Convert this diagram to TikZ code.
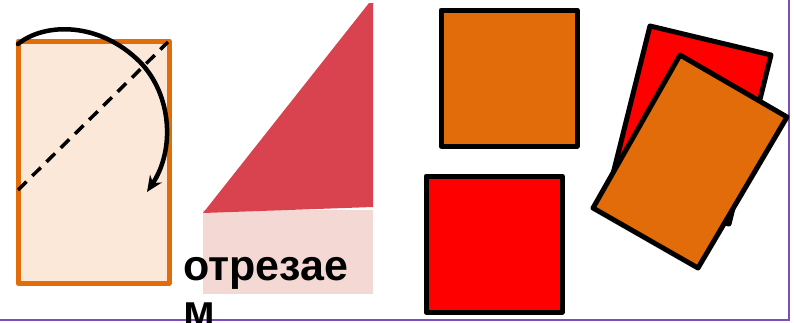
\documentclass[tikz,border=0pt]{standalone}
\usepackage{fontspec}
\setmainfont{Liberation Sans}
\usetikzlibrary{arrows.meta}
\definecolor{orng}{HTML}{E36C0A}
\definecolor{peach}{HTML}{FBE8D9}
\definecolor{tri}{HTML}{D9434F}
\definecolor{pinkbg}{HTML}{F3D8D4}
\definecolor{purp}{HTML}{7E4FB8}
\definecolor{pure}{HTML}{FF0000}
\tikzset{
  card/.style={draw=black, line width=5pt, line join=round},
  lbl/.style={font=\bfseries\fontsize{43}{46}\selectfont, inner sep=0pt, anchor=base west},
}
\begin{document}
\begin{tikzpicture}[x=1pt,y=-1pt]
\useasboundingbox (0,0) rectangle (794,322);
% frame
\draw[purp, line width=2pt] (0,320) -- (789,320) -- (789,0);
% left sheet
\draw[draw=orng, fill=peach, line width=5pt, line join=round] (18,41) rectangle (169,283);
\draw[line width=3.5pt, dash pattern=on 12pt off 8pt] (18,190) -- (168,42);
\draw[line width=4.5pt, line cap=round, -{Stealth[length=16pt,width=14pt]}]
  (18,44) .. controls (45,22) and (100,22) .. (140,62)
  .. controls (172,95) and (175,150) .. (147,192);
% triangle picture
\fill[pinkbg] (203,210) rectangle (373,294);
\fill[tri] (203,213) -- (369,3) -- (373,3) -- (373,207) -- cycle;
\node[lbl] (t1) at (183,280) {отрезае};
\node[lbl] (t2) at (183,325) {м};
% squares
\draw[card, fill=orng] (441,10) rectangle (577,146);
\draw[card, fill=pure] (426,176) rectangle (562,312);
% tilted cards
\draw[card, fill=pure] (650,26) -- (771,55) -- (729,224) -- (608,194) -- cycle;
\draw[card, fill=orng] (680,55) -- (787,117) -- (698,268) -- (593,208) -- cycle;
\end{tikzpicture}
\end{document}
